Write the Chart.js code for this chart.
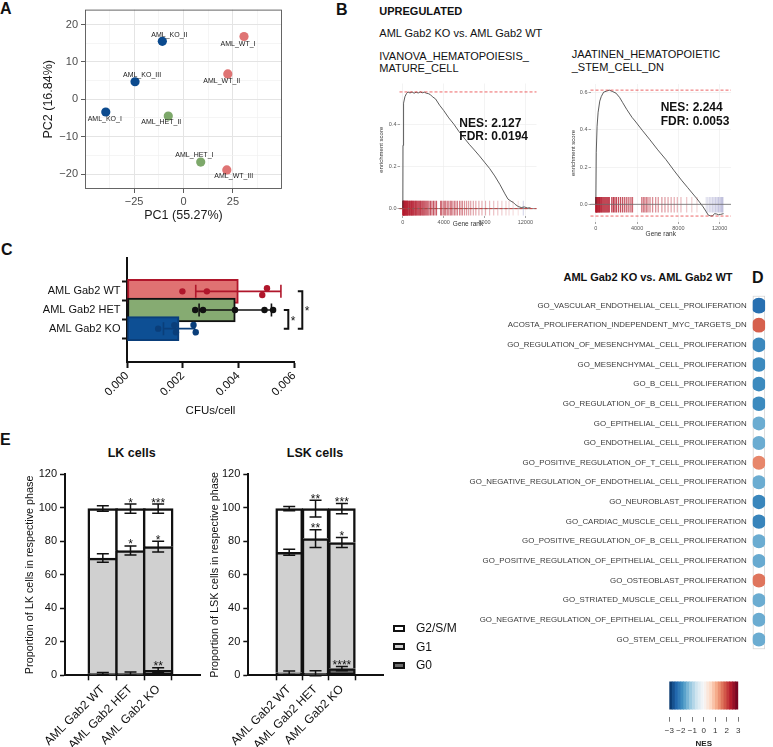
<!DOCTYPE html>
<html><head><meta charset="utf-8">
<script src="https://cdn.jsdelivr.net/npm/chart.js@4.4.1/dist/chart.umd.min.js"></script>
<style>
body{margin:0;background:#fff;width:773px;height:747px;overflow:hidden;position:relative;font-family:"Liberation Sans",Arial,Helvetica,sans-serif;}
canvas{position:absolute;}
.t{position:absolute;white-space:nowrap;line-height:1;color:#111;}
.sw{position:absolute;box-sizing:border-box;border:2px solid #111;}
</style></head><body>
<script>
// ---------------- DATA ----------------
// Panel A: PCA
const pcaSamples = ['AML_KO_II','AML_WT_I','AML_KO_III','AML_WT_II','AML_KO_I','AML_HET_II','AML_HET_I','AML_WT_III'];
const pcaGroup   = ['KO','WT','KO','WT','KO','HET','HET','WT'];
const pc1 = [-10.7, 30.6, -24.5, 22.4, -39.3, -7.7, 8.7, 21.9];
const pc2 = [15.5, 16.8, 4.7, 6.8, -3.4, -4.5, -16.8, -18.9];

// Panel B: GSEA running enrichment scores
const gsea1Rank = [0,15,40,100,200,350,500,700,900,1100,1300,1500,1700,1900,2100,2300,2500,2700,2900,3200,3600,4000,4500,5000,5500,6000,6500,7000,7500,8000,8500,9000,9500,10000,10300,10600,10800,11000,11300,11600,11900,12200,12500];
const gsea1ES   = [0,0.30,0.46,0.50,0.53,0.545,0.553,0.548,0.553,0.547,0.552,0.548,0.553,0.549,0.552,0.547,0.545,0.54,0.53,0.52,0.49,0.465,0.43,0.40,0.365,0.335,0.305,0.278,0.25,0.22,0.19,0.155,0.115,0.07,0.045,0.035,0.03,0.02,0.01,0.005,0.008,0.003,0.004];
const gsea1Hits = [5,20,45,80,110,150,190,240,290,330,380,430,470,520,600,660,720,790,850,900,960,1030,1100,1180,1250,1320,1400,1480,1560,1650,1720,1800,1900,1980,2060,2150,2250,2350,2450,2560,2700,2850,3000,3150,3300,3700,3800,3950,4100,4200,4350,4500,4650,4750,4900,5050,5200,5350,5550,5700,5850,6050,6250,6450,6650,6900,7150,7450,7750,8100,8500,8900,9300,9700,10100,10400,10800,11300,11800];
const gsea2Rank = [0,40,120,220,380,530,750,1000,1300,1600,1950,2300,2600,3000,3500,3800,4500,5200,6000,6800,7600,8300,8900,9500,9800,10100,10400,10700,10900,11100,11300,11500,11700,11900,12100,12380];
const gsea2ES   = [0,0.28,0.42,0.495,0.555,0.58,0.603,0.608,0.614,0.607,0.598,0.575,0.547,0.51,0.468,0.448,0.398,0.35,0.293,0.24,0.18,0.13,0.09,0.05,0.03,0.008,-0.014,-0.04,-0.058,-0.062,-0.063,-0.05,-0.052,-0.056,-0.054,-0.05];
const gsea2Hits = [0,30,80,130,200,280,350,420,520,600,700,800,900,1000,1100,1200,1300,1550,1700,1850,2000,2200,2400,2600,2800,3000,3200,3400,3550,4450,4600,4750,4900,5050,5250,5500,5800,6050,6400,6700,7000,7300,7600,7900,8250,8800,9300,9800,10700,10850,11000,11150,11300,11450,11600,11750,11900,12050,12200,12300];
const gseaTicksX = [0,4000,8000,12000];

// Panel C: CFUs/cell
const cfuGroups = ['AML Gab2 WT','AML Gab2 HET','AML Gab2 KO'];
const cfuMean = [0.00400, 0.00389, 0.00187];
const cfuSD   = [0.00153, 0.00130, 0.00056];
const cfuPoints = [
  [0.00199, 0.00287, 0.00503, 0.00486],
  [0.00245, 0.00273, 0.00388, 0.00494, 0.00525],
  [0.00112, 0.00170, 0.00176, 0.00239, 0.00247]
];
const cfuJitter = [[0,0,-0.17,0.2],[0,0,0,0,0],[0,-0.19,0.19,-0.2,0.19]];
const cfuSig = [[1,2,'*'],[0,2,'*']];

// Panel D: NES dot plot
const gsNames = ['GO_VASCULAR_ENDOTHELIAL_CELL_PROLIFERATION','ACOSTA_PROLIFERATION_INDEPENDENT_MYC_TARGETS_DN','GO_REGULATION_OF_MESENCHYMAL_CELL_PROLIFERATION','GO_MESENCHYMAL_CELL_PROLIFERATION','GO_B_CELL_PROLIFERATION','GO_REGULATION_OF_B_CELL_PROLIFERATION','GO_EPITHELIAL_CELL_PROLIFERATION','GO_ENDOTHELIAL_CELL_PROLIFERATION','GO_POSITIVE_REGULATION_OF_T_CELL_PROLIFERATION','GO_NEGATIVE_REGULATION_OF_ENDOTHELIAL_CELL_PROLIFERATION','GO_NEUROBLAST_PROLIFERATION','GO_CARDIAC_MUSCLE_CELL_PROLIFERATION','GO_POSITIVE_REGULATION_OF_B_CELL_PROLIFERATION','GO_POSITIVE_REGULATION_OF_EPITHELIAL_CELL_PROLIFERATION','GO_OSTEOBLAST_PROLIFERATION','GO_STRIATED_MUSCLE_CELL_PROLIFERATION','GO_NEGATIVE_REGULATION_OF_EPITHELIAL_CELL_PROLIFERATION','GO_STEM_CELL_PROLIFERATION'];
const gsNES  = [-2.27,1.8,-1.95,-1.92,-1.92,-1.92,-1.5,-1.5,1.47,-1.5,-1.97,-2.0,-1.5,-1.52,1.62,-1.5,-1.5,-1.5];
const gsSize = [7.9,7.4,7.3,7.3,7.3,7.3,7.0,7.0,7.0,7.0,7.2,7.2,7.0,7.0,7.1,7.0,7.0,7.0];
const nesTicks = [-3,-2,-1,0,1,2,3];

// Panel E: cell cycle
const cycleGroups = ['AML Gab2 WT','AML Gab2 HET','AML Gab2 KO'];
const phases = ['G2/S/M','G1','G0'];
const lkG0 = [1.0, 1.0, 3.0],  lkG1 = [69.0, 73.5, 73.8], lkG2 = [29.6, 25.0, 22.7];
const lkE0 = [0.7, 0.9, 1.5],  lkE1 = [2.5, 2.7, 3.2],    lkE2 = [1.6, 2.7, 2.7];
const lkS0 = ['','','**'],     lkS1 = ['','*','*'],      lkS2 = ['','*','***'];
const lskG0 = [1.5, 1.2, 4.0], lskG1 = [71.9, 80.4, 75.3], lskG2 = [26.1, 17.9, 20.2];
const lskE0 = [1.0, 1.5, 1.3], lskE1 = [1.8, 5.3, 3.0],    lskE2 = [1.3, 5.0, 3.0];
const lskS0 = ['','','****'],  lskS1 = ['','**','*'],     lskS2 = ['','**','***'];

// ---------------- HELPERS ----------------
const FONT = '"Liberation Sans", Arial, Helvetica, sans-serif';
Chart.defaults.font.family = FONT;
Chart.defaults.color = '#222';
Chart.defaults.animation = false;
Chart.defaults.responsive = false;
Chart.defaults.maintainAspectRatio = false;
Chart.defaults.devicePixelRatio = 1;
Chart.defaults.events = [];
Chart.defaults.plugins.legend.display = false;
Chart.defaults.plugins.tooltip.enabled = false;

function mk(left, top, w, h, cfg){
  const c = document.createElement('canvas');
  c.width = w; c.height = h;
  c.style.left = left+'px'; c.style.top = top+'px';
  c.style.width = w+'px'; c.style.height = h+'px';
  document.body.appendChild(c);
  return new Chart(c, cfg);
}
function txt(s, x, y, o){
  o = o || {};
  const d = document.createElement('div');
  d.className = 't'; d.textContent = s;
  d.style.left = x+'px'; d.style.top = y+'px';
  d.style.fontSize = (o.size||11)+'px';
  if (o.bold) d.style.fontWeight = 'bold';
  if (o.color) d.style.color = o.color;
  const ax = o.align==='center' ? '-50%' : (o.align==='right' ? '-100%' : '0');
  d.style.transform = `translate(${ax},-50%)`;
  document.body.appendChild(d);
  return d;
}
const fixW = w => s => { s.width = w; };
const fixH = h => s => { s.height = h; };
const minus = v => v < 0 ? '\u2212' + Math.abs(v) : String(v);
function hex(h){ return [1,3,5].map(i=>parseInt(h.slice(i,i+2),16)); }
function mix(a,b,f){ const A=hex(a),B=hex(b); return 'rgb('+A.map((v,i)=>Math.round(v+(B[i]-v)*f)).join(',')+')'; }
const RDBU = ['#053061','#2166ac','#4393c3','#92c5de','#d1e5f0','#f7f7f7','#fddbc7','#f4a582','#d6604d','#b2182b','#67001f'];
function rdbu(v){
  const t = Math.max(0, Math.min(1, (v+3)/6))*10;
  const i = Math.min(9, Math.floor(t));
  return mix(RDBU[i], RDBU[i+1], t-i);
}

// ---------------- PANEL LETTERS ----------------
txt('A', 0, 9, {size:16, bold:true});
txt('B', 336, 10, {size:16, bold:true});
txt('C', 1, 250, {size:16, bold:true});
txt('D', 752, 278, {size:16, bold:true});
txt('E', 0, 440, {size:16, bold:true});

// ---------------- PANEL A ----------------
const pcaColors = {KO:'#0b4a8e', WT:'#df7474', HET:'#7da86a'};
const pcaNudge = [[7,-6.5],[-6,7.4],[7,-6.7],[-6,7.3],[-1,6.6],[-7,6.4],[-6.3,-6.7],[7,6.3]];
const boxPlugin = { id:'box', afterDraw(ch){ const a=ch.chartArea, c=ch.ctx; c.save(); c.strokeStyle='#555'; c.lineWidth=0.9; c.strokeRect(a.left+0.5,a.top+0.5,a.right-a.left-1,a.bottom-a.top-1); c.restore(); } };
const pcaLabelPlugin = { id:'pcal', afterDatasetsDraw(ch){
  const c=ch.ctx, m=ch.getDatasetMeta(0);
  c.save(); c.font='7px '+FONT; c.fillStyle='#1a1a1a'; c.textAlign='center'; c.textBaseline='middle';
  m.data.forEach((p,i)=>{ c.fillText(pcaSamples[i], p.x+pcaNudge[i][0], p.y+pcaNudge[i][1]); });
  c.restore(); } };
function pcaGrid(major, minor){
  return {
    color: c => (c.tick && Math.abs(c.tick.value % major) < 1e-9) ? '#e4e4e4' : ((c.tick && Math.abs(c.tick.value % minor) < 1e-9) ? '#f1f1f1' : 'rgba(0,0,0,0)'),
    lineWidth: c => (c.tick && Math.abs(c.tick.value % major) < 1e-9) ? 1 : 0.7,
    tickColor: c => (c.tick && Math.abs(c.tick.value % major) < 1e-9) ? '#333' : 'rgba(0,0,0,0)',
    tickLength: 4, tickWidth: 0.8
  };
}
mk(0, 0, 290, 235, {
  type:'scatter',
  data:{datasets:[{data: pc1.map((x,i)=>({x, y:pc2[i]})), pointRadius:4.6, pointBackgroundColor: pcaGroup.map(g=>pcaColors[g]), pointBorderWidth:0}]},
  options:{
    layout:{padding:{top:7,right:8,left:0,bottom:0}},
    scales:{
      x:{type:'linear', min:-49.8, max:49.8, afterFit:fixH(46),
        ticks:{stepSize:12.5, includeBounds:false, autoSkip:false, maxRotation:0, font:{size:11}, color:'#4d4d4d', padding:2,
          callback:v => Math.abs(v%25)<1e-9 ? minus(v) : ''},
        grid: pcaGrid(25,12.5), border:{display:false},
        title:{display:true, text:'PC1 (55.27%)', font:{size:12.5}, color:'#1a1a1a', padding:{top:0,bottom:11.5}}},
      y:{type:'linear', min:-24, max:24, afterFit:fixW(85),
        ticks:{stepSize:5, includeBounds:false, autoSkip:false, font:{size:11}, color:'#4d4d4d', padding:3,
          callback:v => Math.abs(v%10)<1e-9 ? minus(v) : ''},
        grid: pcaGrid(10,5), border:{display:false},
        title:{display:true, text:'PC2 (16.84%)', font:{size:12.5}, color:'#1a1a1a', padding:{top:41.5,bottom:0}}}
    }
  },
  plugins:[boxPlugin, pcaLabelPlugin]
});

// ---------------- PANEL B ----------------
txt('UPREGULATED', 379.3, 11, {size:11, bold:true});
txt('AML Gab2 KO vs. AML Gab2 WT', 379.3, 32.7, {size:11});
txt('IVANOVA_HEMATOPOIESIS_', 379.3, 55.5, {size:11});
txt('MATURE_CELL', 379.3, 68, {size:11});
txt('JAATINEN_HEMATOPOIETIC', 571.7, 54, {size:11});
txt('_STEM_CELL_DN', 571.7, 67, {size:11});

function rugColor(r, z, n){
  if (r <= z) return mix('#b2182b', '#f7e2e2', Math.pow(r/z, 0.9));
  return mix('#ececf5', '#b8b8d8', (r-z)/(n-z));
}
function gseaChart(o){
  const esMax = Math.max(...o.es), esMin = Math.min(...o.es);
  const linesPlugin = { id:'gl', afterDatasetsDraw(ch){
    const c=ch.ctx, a=ch.chartArea, y=ch.scales.y;
    c.save();
    c.strokeStyle='#6a6a6a'; c.lineWidth=0.8;
    const y0=y.getPixelForValue(0); c.beginPath(); c.moveTo(a.left,y0); c.lineTo(a.right,y0); c.stroke();
    c.strokeStyle='rgba(228,26,28,0.85)'; c.lineWidth=0.8; c.setLineDash([3,2]);
    [esMax,esMin].forEach(v=>{ const p=y.getPixelForValue(v); c.beginPath(); c.moveTo(a.left,p); c.lineTo(a.right,p); c.stroke(); });
    c.restore(); } };
  return mk(o.left, o.top, o.w, o.h, {
    type:'scatter',
    data:{datasets:[
      {type:'line', data:o.rank.map((r,i)=>({x:r,y:o.es[i]})), borderColor:'#333', borderWidth:0.8, pointRadius:0, tension:0, fill:false},
      {data:o.hits.map(r=>({x:r,y:o.rugY})), showLine:false, pointStyle:'line', pointRotation:90, pointRadius:o.rugR,
       pointBorderWidth:o.rugW, pointBorderColor:o.hits.map(r=>rugColor(r,o.zero,12500)), pointBackgroundColor:'rgba(0,0,0,0)'}
    ]},
    options:{
      layout:{padding:{top:o.padTop,right:o.padRight,left:0,bottom:0}},
      scales:{
        x:{type:'linear', min:o.xmin, max:o.xmax, afterFit:fixH(o.xH),
          afterBuildTicks:s=>{ s.ticks = gseaTicksX.map(v=>({value:v})); },
          ticks:{autoSkip:false, maxRotation:0, font:{size:5.5}, color:'#555', padding:1, callback:v=>String(v)},
          grid:{color:'#ebebeb', lineWidth:0.6, tickLength:2, tickColor:'#666', tickWidth:0.6}, border:{display:false},
          title:{display:true, text:'Gene rank', font:{size:6.5}, color:'#333', padding:{top:0,bottom:o.xTitlePad}}},
        y:{type:'linear', min:o.ymin, max:o.ymax, afterFit:fixW(o.yW),
          afterBuildTicks:s=>{ s.ticks = o.yTicks.map(v=>({value:v})); },
          ticks:{autoSkip:false, font:{size:5.5}, color:'#555', padding:1, callback:v=>v.toFixed(1)},
          grid:{color:'#ebebeb', lineWidth:0.6, tickLength:2, tickColor:'#666', tickWidth:0.6}, border:{display:false},
          title:{display:true, text:'enrichment score', font:{size:6}, color:'#333', padding:{top:o.yTitlePad,bottom:0}}}
      }
    },
    plugins:[linesPlugin]
  });
}
gseaChart({left:370, top:75, w:175, h:160, padTop:5, padRight:2.7, xH:19, yW:29.5,
  xmin:-329, xmax:13092, ymin:-0.035, ymax:0.593, yTicks:[0,0.2,0.4],
  rank:gsea1Rank, es:gsea1ES, hits:gsea1Hits, rugY:0.002, rugR:7.4, rugW:1.1, zero:11300, xTitlePad:6.4, yTitlePad:8.1});
gseaChart({left:560, top:75, w:180, h:165, padTop:6, padRight:5, xH:18, yW:30.5,
  xmin:-518, xmax:13100, ymin:-0.095, ymax:0.647, yTicks:[0,0.2,0.4,0.6],
  rank:gsea2Rank, es:gsea2ES, hits:gsea2Hits, rugY:-0.002, rugR:7.7, rugW:1.3, zero:10250, xTitlePad:2.1, yTitlePad:9.4});
txt('NES: 2.127', 459.3, 123, {size:12, bold:true});
txt('FDR: 0.0194', 459.3, 136, {size:12, bold:true});
txt('NES: 2.244', 660.7, 107.3, {size:12, bold:true});
txt('FDR: 0.0053', 660.7, 120.7, {size:12, bold:true});

// ---------------- PANEL C ----------------
const cfuFill = ['#e07272','#86ab72','#0d4f94'];
const cfuLine = ['#b0162b','#111111','#0a3e7a'];
const cfuErrPlugin = { id:'cfuerr', afterDatasetDraw(ch, args){
  if (args.index !== 0) return;
  const c=ch.ctx, x=ch.scales.x, y=ch.scales.y;
  c.save(); c.lineWidth=1.6;
  cfuMean.forEach((m,i)=>{
    const py=y.getPixelForValue(i), xl=x.getPixelForValue(m-cfuSD[i]), xr=x.getPixelForValue(m+cfuSD[i]);
    c.strokeStyle=cfuLine[i];
    c.beginPath(); c.moveTo(xl,py); c.lineTo(xr,py);
    c.moveTo(xl,py-6.5); c.lineTo(xl,py+6.5); c.moveTo(xr,py-6.5); c.lineTo(xr,py+6.5); c.stroke();
  });
  c.restore(); },
  afterDraw(ch){
    const c=ch.ctx, y=ch.scales.y, a=ch.chartArea;
    const xs=[a.right-5.7, a.right+8.3];
    c.save(); c.strokeStyle='#111'; c.fillStyle='#111'; c.lineWidth=2;
    c.font='12px '+FONT; c.textBaseline='middle'; c.textAlign='left';
    cfuSig.forEach((s,k)=>{
      const y1=y.getPixelForValue(s[0]), y2=y.getPixelForValue(s[1]), bx=xs[k];
      c.beginPath(); c.moveTo(bx-4.5,y1); c.lineTo(bx,y1); c.lineTo(bx,y2); c.lineTo(bx-4.5,y2); c.stroke();
      c.fillText(s[2], bx+2.5, (y1+y2)/2+2);
    });
    c.restore(); } };
const cfuDots = [];
cfuPoints.forEach((arr,i)=>arr.forEach((v,j)=>cfuDots.push({x:v, y:i+cfuJitter[i][j], g:i})));
mk(0, 235, 320, 190, {
  type:'bar',
  data:{datasets:[
    {type:'bar', data:cfuMean.map((m,i)=>({x:m,y:i})), backgroundColor:cfuFill, borderColor:cfuLine, borderWidth:2, borderSkipped:false, barThickness:24, order:2},
    {type:'scatter', data:cfuDots, pointRadius:3.2, pointBackgroundColor:cfuDots.map(d=>cfuLine[d.g]), pointBorderWidth:0, order:1}
  ]},
  options:{
    indexAxis:'y',
    layout:{padding:{top:23,right:26,left:0,bottom:0}},
    scales:{
      x:{type:'linear', min:0, max:0.006, afterFit:fixH(63),
        ticks:{stepSize:0.002, autoSkip:false, minRotation:45, maxRotation:45, font:{size:11.5}, color:'#111', padding:1, callback:v=>v.toFixed(3)},
        grid:{drawOnChartArea:false, tickLength:6, tickColor:'#111', tickWidth:2}, border:{display:true,color:'#111',width:2},
        title:{display:true, text:'CFUs/cell', font:{size:11.5}, color:'#111', padding:{top:0,bottom:7}}},
      y:{type:'linear', min:-0.857, max:2.857, reverse:true, afterFit:fixW(127),
        afterBuildTicks:s=>{ s.ticks = cfuGroups.map((g,i)=>({value:i})); },
        ticks:{autoSkip:false, font:{size:11}, color:'#111', padding:1.5, callback:v=>cfuGroups[v]},
        grid:{drawOnChartArea:false, tickLength:5, tickColor:'#111', tickWidth:2}, border:{display:true,color:'#111',width:2}}
    }
  },
  plugins:[cfuErrPlugin]
});

// ---------------- PANEL D ----------------
txt('AML Gab2 KO vs. AML Gab2 WT', 648, 277, {size:11, bold:true, align:'center'});
const dBox = { id:'dbox', beforeDatasetsDraw(ch){
  const c=ch.ctx, a=ch.chartArea, y=ch.scales.y;
  c.save(); c.strokeStyle='#eeeeee'; c.lineWidth=0.6;
  gsNames.forEach((n,i)=>{ const p=y.getPixelForValue(i); c.beginPath(); c.moveTo(a.left,p); c.lineTo(a.right,p); c.stroke(); });
  c.strokeStyle='#d6d6d6'; c.lineWidth=0.8; c.strokeRect(a.left+0.5,a.top+0.5,a.right-a.left-1,a.bottom-a.top-1);
  c.restore(); } };
mk(380, 285, 393, 375, {
  type:'scatter',
  data:{labels:gsNames, datasets:[{data:gsNames.map(n=>({x:1,y:n})), pointRadius:gsSize, pointBackgroundColor:gsNES.map(rdbu), pointBorderWidth:0}]},
  options:{
    layout:{padding:{top:5.6,right:1.5,left:0,bottom:7.5}},
    scales:{
      x:{type:'linear', min:0, max:2, display:false},
      y:{type:'category', labels:gsNames, offset:true, afterFit:fixW(372.7),
        ticks:{autoSkip:false, font:{size:7.9}, color:'#3a3a3a', padding:6},
        grid:{display:false, drawTicks:false}, border:{display:false}}
    }
  },
  plugins:[dBox]
});

// colour bar
const cbSteps = 24;
const cbBins = Array.from({length:cbSteps}, (_,i)=>[-3+6*i/cbSteps, -3+6*(i+1)/cbSteps]);
mk(655, 670, 100, 82, {
  type:'bar',
  data:{datasets:[{data:cbBins.map(b=>({x:b, y:1})), backgroundColor:cbBins.map(b=>rdbu((b[0]+b[1])/2)), borderWidth:0, barThickness:27.4, grouped:false}]},
  options:{
    indexAxis:'y',
    layout:{padding:{top:9.3,right:16.7,left:14.3,bottom:0}},
    scales:{
      x:{type:'linear', min:-3, max:3, afterFit:fixH(35.3),
        afterBuildTicks:s=>{ s.ticks = nesTicks.map(v=>({value:v})); },
        ticks:{autoSkip:false, maxRotation:0, font:{size:8}, color:'#333', padding:4, callback:v=>minus(v)},
        grid:{drawOnChartArea:false, tickLength:5, tickColor:'#555', tickWidth:0.8}, border:{display:false},
        title:{display:true, text:'NES', font:{size:8, weight:'bold'}, color:'#222', padding:{top:0,bottom:3.2}}},
      y:{type:'linear', min:0, max:1.578, display:false}
    }
  }
});

// ---------------- PANEL E ----------------
txt('LK cells', 131.7, 453, {size:12.5, bold:true, align:'center'});
txt('LSK cells', 315, 453, {size:12.5, bold:true, align:'center'});
function cycleChart(o){
  const stacks=[o.g0,o.g1,o.g2], errs=[o.e0,o.e1,o.e2], stars=[o.s0,o.s1,o.s2];
  const errPlugin = { id:'cerr', afterDatasetsDraw(ch){
    const c=ch.ctx, x=ch.scales.x, y=ch.scales.y;
    c.save(); c.strokeStyle='#111'; c.fillStyle='#111'; c.lineWidth=1.5;
    c.font='12px '+FONT; c.textAlign='center'; c.textBaseline='alphabetic';
    const cum=[0,0,0];
    for (let d=0; d<3; d++){
      for (let i=0;i<3;i++){
        cum[i]+=stacks[d][i];
        const px=x.getPixelForValue(i), yt=y.getPixelForValue(cum[i]+errs[d][i]), yb=y.getPixelForValue(cum[i]-errs[d][i]);
        c.beginPath(); c.moveTo(px,yt); c.lineTo(px,yb);
        c.moveTo(px-6,yt); c.lineTo(px+6,yt); c.moveTo(px-6,yb); c.lineTo(px+6,yb); c.stroke();
        if (stars[d][i]) c.fillText(stars[d][i], px, yt+2.5);
      }
    }
    c.restore(); } };
  const fills=['#6b6b6b','#d0d0d0','#ffffff'];
  return mk(o.left, o.top, o.w, o.h, {
    type:'bar',
    data:{datasets:stacks.map((arr,d)=>({label:phases[2-d], data:arr.map((v,i)=>({x:i,y:v})), backgroundColor:fills[d],
      borderColor:'#111', borderWidth:2.5, borderSkipped:d===0?false:'start', barThickness:o.barW}))},
    options:{
      layout:{padding:{top:34.3,right:o.padRight,left:0,bottom:0}},
      scales:{
        x:{type:'linear', stacked:true, min:o.xmin, max:o.xmax, afterFit:fixH(71.7),
          afterBuildTicks:s=>{ s.ticks = cycleGroups.map((g,i)=>({value:i})); },
          ticks:{autoSkip:false, minRotation:45, maxRotation:45, font:{size:12}, color:'#111', padding:2, callback:v=>cycleGroups[v]},
          grid:{drawOnChartArea:false, tickLength:5, tickColor:'#111', tickWidth:1.5}, border:{display:true,color:'#111',width:2}},
        y:{type:'linear', stacked:true, min:0, max:120, afterFit:fixW(o.yW),
          ticks:{stepSize:20, autoSkip:false, font:{size:11}, color:'#111', padding:3},
          grid:{drawOnChartArea:false, tickLength:5, tickColor:'#111', tickWidth:1.5}, border:{display:true,color:'#111',width:2},
          title:{display:true, text:o.ytitle, font:{size:10.8}, color:'#111', padding:{top:o.yTitlePad,bottom:0}}}
      }
    },
    plugins:[errPlugin]
  });
}
cycleChart({left:0, top:440, w:205, h:307, padRight:5, yW:65, xmin:-0.554, xmax:2.699, barW:30,
  g0:lkG0, g1:lkG1, g2:lkG2, e0:lkE0, e1:lkE1, e2:lkE2, s0:lkS0, s1:lkS1, s2:lkS2,
  ytitle:'Proportion of LK cells in respective phase', yTitlePad:23.5});
cycleChart({left:200, top:440, w:200, h:307, padRight:17, yW:48.3, xmin:-0.701, xmax:2.709, barW:27,
  g0:lskG0, g1:lskG1, g2:lskG2, e0:lskE0, e1:lskE1, e2:lskE2, s0:lskS0, s1:lskS1, s2:lskS2,
  ytitle:'Proportion of LSK cells in respective phase', yTitlePad:8.5});

// legend E
const legFill = ['#ffffff','#d0d0d0','#6b6b6b'];
phases.forEach((p,i)=>{
  const cy = 628 + i*18.5;
  const s = document.createElement('div'); s.className='sw';
  s.style.left='393px'; s.style.top=(cy-3.5)+'px'; s.style.width='12px'; s.style.height='7px'; s.style.background=legFill[i];
  document.body.appendChild(s);
  txt(p, 416, cy, {size:12});
});
</script>
</body></html>
